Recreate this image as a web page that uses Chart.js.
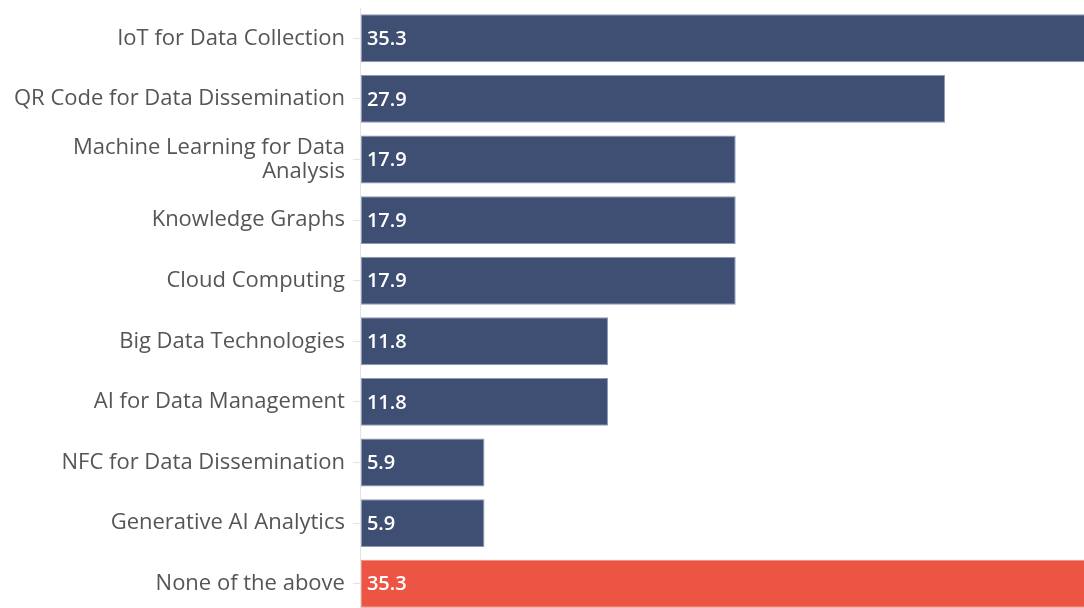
<!DOCTYPE html>
<html>
<head>
<meta charset="utf-8">
<script src="https://cdn.jsdelivr.net/npm/chart.js@4.4.1/dist/chart.umd.min.js"></script>
<style>
  html, body { margin: 0; padding: 0; background: #fff; overflow: hidden; }
  #wrap { position: relative; width: 1100px; height: 614px; }
</style>
</head>
<body>
<div id="wrap"><canvas id="techChart"></canvas></div>
<script>
// categories and shares (percent)
const categories = [
  'IoT for Data Collection',
  'QR Code for Data Dissemination',
  ['Machine Learning for Data', 'Analysis'],
  'Knowledge Graphs',
  'Cloud Computing',
  'Big Data Technologies',
  'AI for Data Management',
  'NFC for Data Dissemination',
  'Generative AI Analytics',
  'None of the above'
];
const shares = [35.3, 27.9, 17.9, 17.9, 17.9, 11.8, 11.8, 5.9, 5.9, 35.3];
const highlightIndex = 9; // "None of the above" drawn in red

const navy = '#3f4f73';
const red = '#ec5443';

// value text inside each bar, at the bar's start
const valueLabels = {
  id: 'valueLabels',
  afterDatasetsDraw(chart) {
    const ctx = chart.ctx;
    const meta = chart.getDatasetMeta(0);
    ctx.save();
    ctx.fillStyle = '#ffffff';
    ctx.font = '600 20px "Open Sans"';
    ctx.textBaseline = 'middle';
    ctx.textAlign = 'left';
    meta.data.forEach((bar, i) => {
      ctx.fillText(shares[i].toFixed(1), bar.base + 6, bar.y + 1);
    });
    ctx.restore();
  }
};

new Chart(document.getElementById('techChart'), {
  type: 'bar',
  data: {
    labels: categories,
    datasets: [{
      data: shares,
      backgroundColor: shares.map((v, i) => i === highlightIndex ? red : navy),
      borderColor: shares.map((v, i) => i === highlightIndex ? '#f08a7e' : '#8e99b3'),
      borderWidth: 1,
      borderSkipped: false,
      barPercentage: 0.79,
      categoryPercentage: 1
    }]
  },
  options: {
    indexAxis: 'y',
    responsive: true,
    maintainAspectRatio: false,
    animation: false,
    layout: { padding: { top: 8, right: 0, left: 6, bottom: 0 } },
    plugins: {
      legend: { display: false },
      tooltip: { enabled: false }
    },
    scales: {
      x: {
        min: 0,
        max: 35.3,
        display: false
      },
      y: {
        // no extra room for half-height edge labels
        afterFit(scale) {
          scale.paddingTop = 0;
          scale.paddingBottom = 0;
        },
        grid: {
          offset: false,
          drawOnChartArea: false,
          tickLength: 8,
          color: '#e3e3e3'
        },
        border: { color: '#e3e3e3', width: 1 },
        ticks: {
          color: '#555555',
          padding: 8,
          font: { family: 'Open Sans', size: 22, lineHeight: 1.1 }
        }
      }
    }
  },
  plugins: [valueLabels]
});
</script>
</body>
</html>
